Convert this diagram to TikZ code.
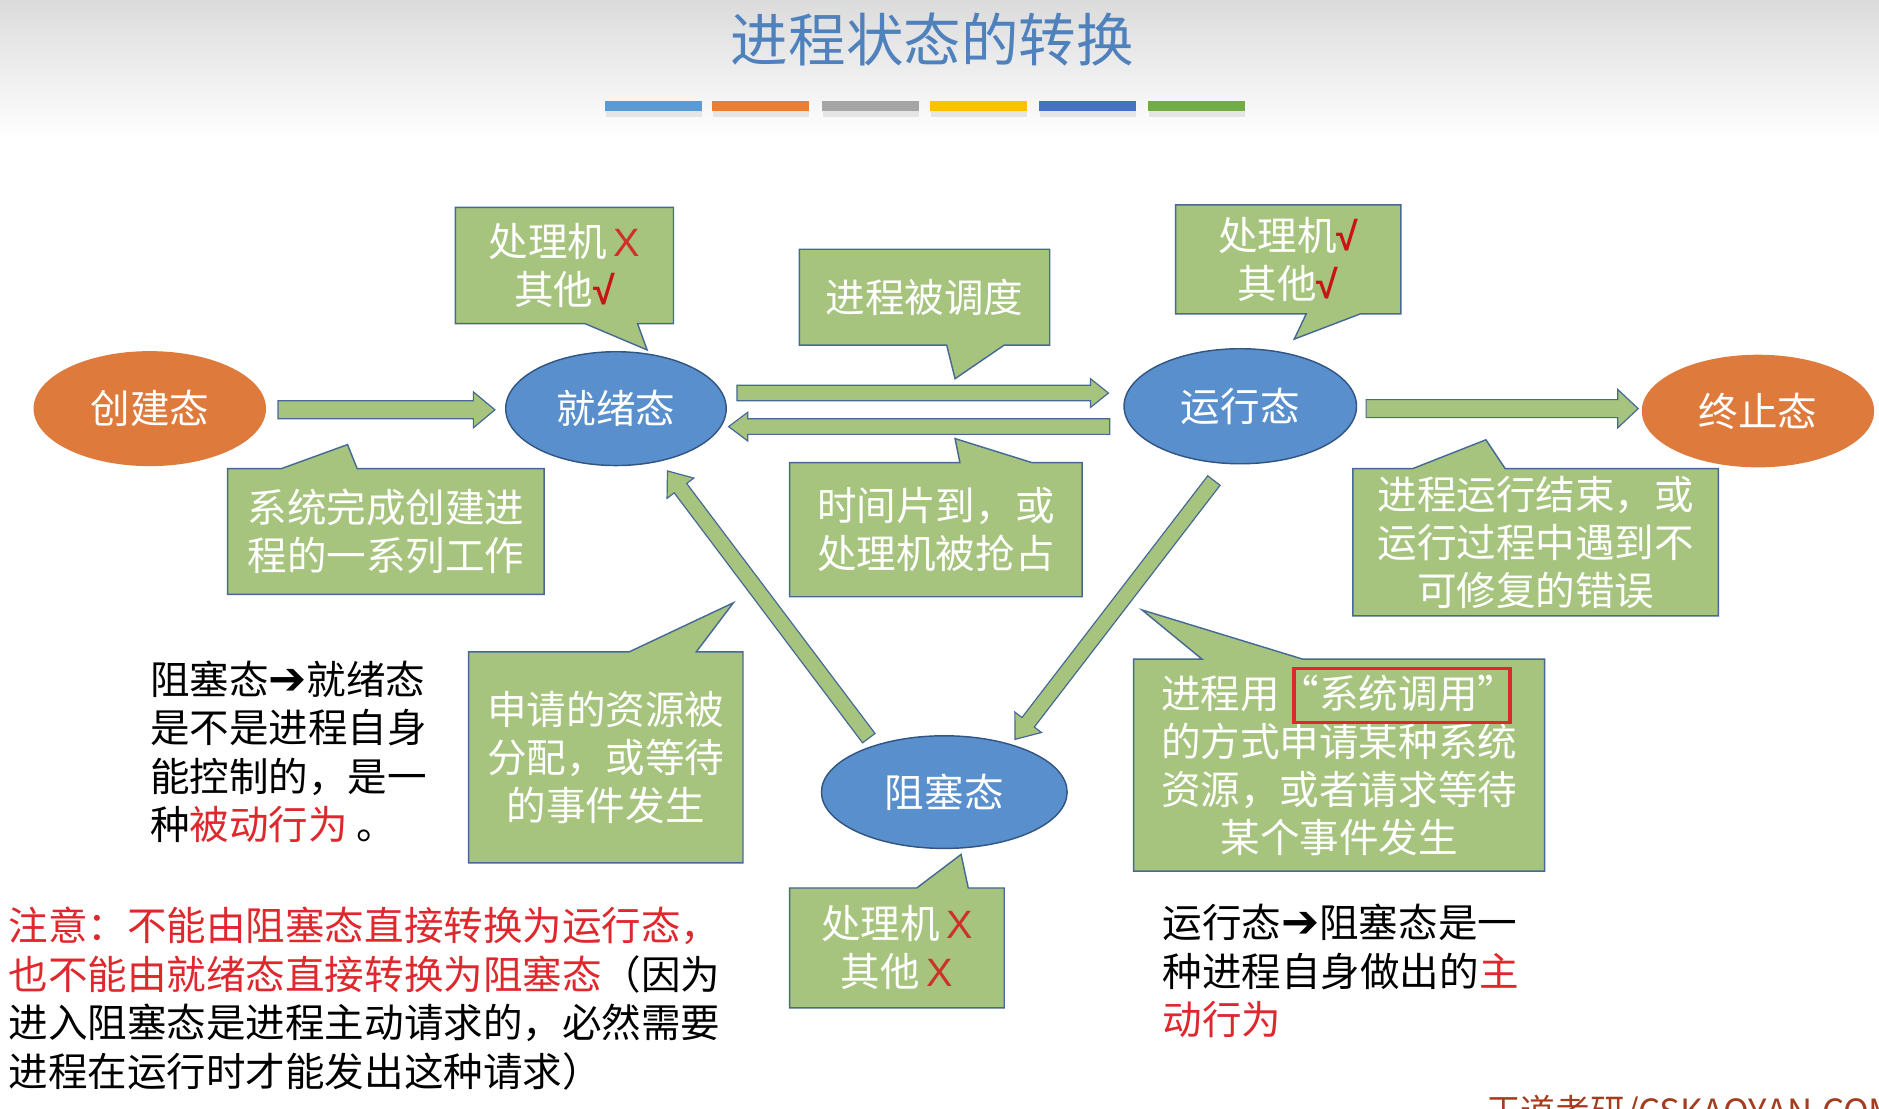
\documentclass[tikz,border=0pt]{standalone}
\usepackage{fontspec}
\setmainfont{Noto Sans CJK SC}
\newfontfamily\symfont{Liberation Sans}
\newfontfamily\arrfont{DejaVu Sans}
\usetikzlibrary{shapes.geometric,calc,backgrounds}

\definecolor{cgreen}{RGB}{166,196,125}
\definecolor{cborder}{RGB}{70,105,150}
\definecolor{cblue}{RGB}{88,143,204}
\definecolor{cblueb}{RGB}{50,85,130}
\definecolor{corange}{RGB}{222,122,60}
\definecolor{ctitle}{RGB}{79,129,189}
\definecolor{cred}{RGB}{222,40,45}
\definecolor{cxred}{RGB}{205,50,40}
\definecolor{cvred}{RGB}{200,20,20}
\definecolor{cbrown}{RGB}{165,60,30}
\definecolor{bar1}{RGB}{91,155,213}
\definecolor{bar2}{RGB}{237,125,49}
\definecolor{bar3}{RGB}{165,165,165}
\definecolor{bar4}{RGB}{255,192,0}
\definecolor{bar5}{RGB}{68,114,196}
\definecolor{bar6}{RGB}{112,173,71}

\newcommand\myx{\,{\symfont\color{cxred}X}}
\newcommand\myv{{\symfont\bfseries\color{cvred}√}}
\newcommand\myarr{{\arrfont\fontsize{38}{40}\selectfont ➔}}

\newcommand\blockarr[5]{%
  \coordinate (ba-s) at #1;
  \coordinate (ba-e) at #2;
  \coordinate (ba-h) at ($(ba-e)!#5!(ba-s)$);
  \draw[barrow] ($(ba-s)!#3!90:(ba-e)$) -- ($(ba-h)!#3!90:(ba-e)$) --
    ($(ba-h)!#4!90:(ba-e)$) -- (ba-e) -- ($(ba-h)!#4!-90:(ba-e)$) --
    ($(ba-h)!#3!-90:(ba-e)$) -- ($(ba-s)!#3!-90:(ba-e)$) -- cycle;
}

\tikzset{
  state/.style={ellipse, inner sep=0pt, outer sep=0pt, text=white,
    font=\fontsize{33}{38}\selectfont},
  bluestate/.style={state, fill=cblue, draw=cblueb, line width=1.2pt},
  orgstate/.style={state, fill=corange},
  callbox/.style={rectangle, inner sep=0pt, outer sep=0pt, align=center,
    text=white, font=\fontsize{33}{40}\selectfont},
  callshape/.style={fill=cgreen, draw=cborder, line width=1.2pt, line join=miter},
  barrow/.style={fill=cgreen, draw=cborder, line width=1pt, line join=miter},
  note/.style={anchor=west, inner sep=0pt, align=left,
    font=\fontsize{33}{40.5}\selectfont},
}

\begin{document}
\begin{tikzpicture}[x=1pt,y=-1pt]
\useasboundingbox (0,0) rectangle (1568,925);
\clip (0,0) rectangle (1568,925);

% title and colour bars
\node[font=\fontsize{48}{50}\selectfont, text=ctitle] (title) at (778,33) {进程状态的转换};
\foreach \xa/\c in {505/bar1,594/bar2,686/bar3,776/bar4,867/bar5,958/bar6}{
  \fill[black!10] (\xa+1,93) rectangle (\xa+81,98);
  \fill[\c] (\xa,84) rectangle (\xa+81,93);
}

% states
\node[orgstate, minimum width=194pt, minimum height=96pt] (cj) at (125,341) {创建态};
\node[bluestate, minimum width=184pt, minimum height=95pt] (jx) at (514,341) {就绪态};
\node[bluestate, minimum width=194pt, minimum height=96pt] (yx) at (1035,339) {运行态};
\node[orgstate, minimum width=194pt, minimum height=94pt] (zz) at (1467,343) {终止态};
\node[bluestate, minimum width=205pt, minimum height=94pt] (zs) at (788,661) {阻塞态};

% callouts (text)
\node[callbox, minimum width=182pt, minimum height=97pt] (c1) at (471,221.5) {处理机\myx\\其他\myv};
\node[callbox, minimum width=264pt, minimum height=105pt] (c2) at (322,443.5) {系统完成创建进\\程的一系列工作};
\node[callbox, minimum width=209pt, minimum height=80pt] (c3) at (771.5,248) {进程被调度};
\node[callbox, minimum width=244pt, minimum height=112pt] (c4) at (781,442) {时间片到，或\\处理机被抢占};
\node[callbox, minimum width=188pt, minimum height=91pt] (c5) at (1075,216.5) {处理机\myv\\其他\myv};
\node[callbox, minimum width=305pt, minimum height=123pt] (c6) at (1281.5,452.5) {进程运行结束，或\\运行过程中遇到不\\可修复的错误};
\node[callbox, minimum width=229pt, minimum height=176pt] (c7) at (505.5,632) {申请的资源被\\分配，或等待\\的事件发生};
\node[callbox, minimum width=343pt, minimum height=177pt] (c8) at (1117.5,638.5) {进程用“系统调用”\\的方式申请某种系统\\资源，或者请求等待\\某个事件发生};
\node[callbox, minimum width=179pt, minimum height=100pt] (c9) at (748.5,791) {处理机\myx\\其他\myx};

\begin{pgfonlayer}{background}
  \shade[top color=black!14, bottom color=white] (0,0) rectangle (1568,115);
  \draw[callshape] (c1.north west) -- (c1.north east) -- (c1.south east) --
    ($(c1.south west)+(152,0)$) -- ($(c1.south west)+(160,22)$) --
    ($(c1.south west)+(108,0)$) -- (c1.south west) -- cycle;
  \draw[callshape] (c2.south west) -- (c2.north west) --
    ($(c2.north west)+(45,0)$) -- ($(c2.north west)+(100,-20)$) --
    ($(c2.north west)+(108,0)$) -- (c2.north east) -- (c2.south east) -- cycle;
  \draw[callshape] (c3.north west) -- (c3.north east) -- (c3.south east) --
    ($(c3.south west)+(171,0)$) -- ($(c3.south west)+(130,28)$) --
    ($(c3.south west)+(123,0)$) -- (c3.south west) -- cycle;
  \draw[callshape] (c4.south west) -- (c4.north west) --
    ($(c4.north west)+(142,0)$) -- ($(c4.north west)+(138,-20)$) --
    ($(c4.north west)+(202,0)$) -- (c4.north east) -- (c4.south east) -- cycle;
  \draw[callshape] (c5.north west) -- (c5.north east) -- (c5.south east) --
    ($(c5.south west)+(154,0)$) -- ($(c5.south west)+(99,21)$) --
    ($(c5.south west)+(109,0)$) -- (c5.south west) -- cycle;
  \draw[callshape] (c6.south west) -- (c6.north west) --
    ($(c6.north west)+(50,0)$) -- ($(c6.north west)+(111,-24)$) --
    ($(c6.north west)+(127,0)$) -- (c6.north east) -- (c6.south east) -- cycle;
  \draw[callshape] (c7.south west) -- (c7.north west) --
    ($(c7.north west)+(134,0)$) -- ($(c7.north west)+(221,-41)$) --
    ($(c7.north west)+(190,0)$) -- (c7.north east) -- (c7.south east) -- cycle;
  \draw[callshape] (c8.south west) -- (c8.north west) --
    ($(c8.north west)+(57,0)$) -- ($(c8.north west)+(7,-41)$) --
    ($(c8.north west)+(141,0)$) -- (c8.north east) -- (c8.south east) -- cycle;
  \draw[callshape] (c9.south west) -- (c9.north west) --
    ($(c9.north west)+(106,0)$) -- ($(c9.north west)+(143,-28)$) --
    ($(c9.north west)+(149,0)$) -- (c9.north east) -- (c9.south east) -- cycle;
\end{pgfonlayer}

% red frame around the quoted term
\draw[cred, line width=3pt] ($(c8.north west)+(134,8)$) rectangle ($(c8.north west)+(314,53)$);

% block arrows
\blockarr{($(cj.east)+(10,1)$)}{($(jx.west)+(-9,1)$)}{7.5pt}{15pt}{18pt}
\blockarr{($(jx.east)+(9,-13)$)}{($(yx.west)+(-13,-11)$)}{6.5pt}{12pt}{15pt}
\blockarr{($(yx.west)+(-12,17)$)}{($(jx.east)+(2,15)$)}{6.5pt}{12pt}{16pt}
\blockarr{($(yx.east)+(8,2)$)}{($(zz.west)+(-3,-2)$)}{7.5pt}{16pt}{17pt}
\blockarr{($(zs)+(-63,-45)$)}{($(jx)+(43,52)$)}{6.5pt}{14pt}{18pt}
\blockarr{($(yx)+(-22,62)$)}{($(zs)+(59,-44)$)}{6.5pt}{14pt}{18pt}

% notes
\node[note] (t1) at (125,627.5) {阻塞态\myarr 就绪态\\是不是进程自身\\能控制的，是一\\种\textcolor{cred}{被动行为} 。};
\node[note] (t2) at (7,833.5) {\textcolor{cred}{注意：不能由阻塞态直接转换为运行态，}\\\textcolor{cred}{也不能由就绪态直接转换为阻塞态}（因为\\进入阻塞态是进程主动请求的，必然需要\\进程在运行时才能发出这种请求）};
\node[note] (t3) at (970,810.5) {运行态\myarr 阻塞态是一\\种进程自身做出的\textcolor{cred}{主}\\\textcolor{cred}{动行为}};

\node[anchor=north west, inner sep=0pt, text=cbrown, font=\fontsize{29}{30}\selectfont] (wm) at (1240,914) {王道考研/CSKAOYAN.COM};
\end{tikzpicture}
\end{document}
